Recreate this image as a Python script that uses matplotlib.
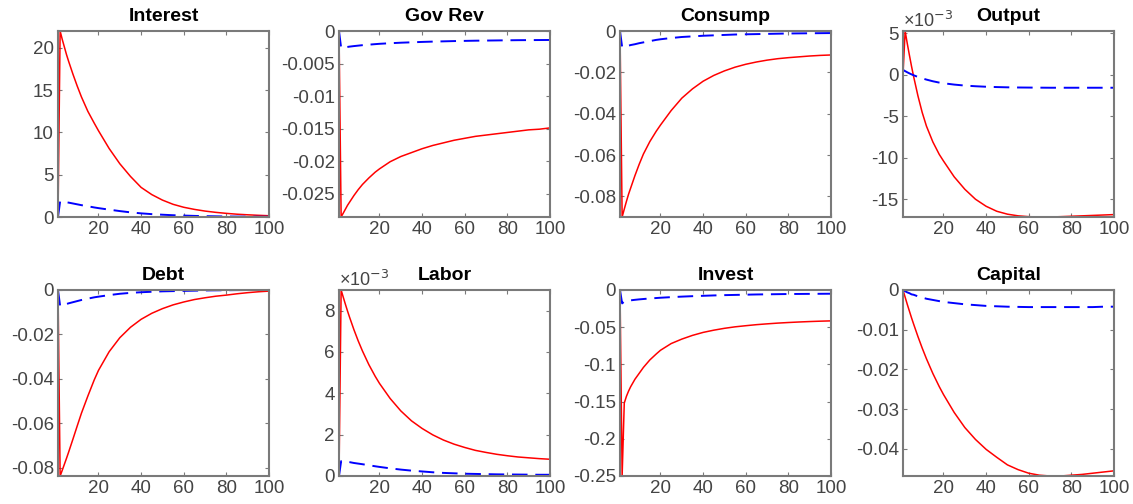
import matplotlib
matplotlib.use("Agg")
import matplotlib.pyplot as plt
from matplotlib.ticker import FixedLocator, FuncFormatter

plt.rcParams['font.family'] = ['Liberation Sans', 'DejaVu Sans']
plt.rcParams['axes.unicode_minus'] = False

# horizon points
periods = [1, 2, 3, 4, 5, 6, 8, 10, 12, 15, 18, 20, 25, 30, 35, 40,
           45, 50, 55, 60, 65, 70, 75, 80, 85, 90, 95, 100]

titles = ["Interest", "Gov Rev", "Consump", "Output",
          "Debt", "Labor", "Invest", "Capital"]

# red (solid) responses
interest_red = [0, 22, 21.0, 20.1, 19.2, 18.4, 16.9, 15.5, 14.2, 12.5, 11.1, 10.2, 8.1, 6.3,
                4.8, 3.5, 2.65, 2.0, 1.5, 1.15, 0.9, 0.7, 0.55, 0.43, 0.33, 0.26, 0.2, 0.15]
govrev_red = [0, -0.0286, -0.0280, -0.0274, -0.0268, -0.0263, -0.0253, -0.0244, -0.0236,
              -0.0226, -0.0217, -0.0212, -0.0201, -0.0193, -0.0187, -0.0181, -0.0176,
              -0.0172, -0.0168, -0.0165, -0.0162, -0.0160, -0.0158, -0.0156, -0.0154,
              -0.0152, -0.0151, -0.0149]
consump_red = [0, -0.090, -0.0862, -0.0825, -0.079, -0.0760, -0.0700, -0.0645, -0.0595,
               -0.0535, -0.0485, -0.0455, -0.0385, -0.0325, -0.0280, -0.0243, -0.0215,
               -0.0193, -0.0175, -0.0161, -0.0150, -0.0141, -0.0134, -0.0129, -0.0125,
               -0.0121, -0.0118, -0.0116]
output_red = [0, 0.00525, 0.00375, 0.00235, 0.0010, -0.00025, -0.00255, -0.00455, -0.0062,
              -0.0081, -0.0096, -0.0104, -0.0123, -0.0138, -0.0150, -0.01585, -0.01645,
              -0.0168, -0.0170, -0.0171, -0.01714, -0.01714, -0.0171, -0.01705, -0.0170,
              -0.01695, -0.0169, -0.01685]
debt_red = [0, -0.0838, -0.0812, -0.0785, -0.0758, -0.0730, -0.0672, -0.0613, -0.0555,
            -0.0478, -0.0405, -0.0362, -0.0278, -0.0215, -0.0168, -0.0132, -0.0105,
            -0.0084, -0.0067, -0.0054, -0.0043, -0.0035, -0.0028, -0.0023, -0.0017,
            -0.0012, -0.0008, -0.0005]
labor_red = [0, 0.0090, 0.00865, 0.00831, 0.00798, 0.00767, 0.00708, 0.00654, 0.00605,
             0.00539, 0.00482, 0.00448, 0.00375, 0.00315, 0.00267, 0.0023, 0.00199,
             0.00174, 0.00154, 0.00138, 0.00124, 0.00114, 0.00105, 0.00098, 0.00092,
             0.00088, 0.00084, 0.00081]
invest_red = [0, -0.25, -0.152, -0.143, -0.136, -0.130, -0.120, -0.112, -0.104, -0.094,
              -0.086, -0.081, -0.072, -0.066, -0.061, -0.057, -0.054, -0.0515, -0.0495,
              -0.048, -0.0466, -0.0455, -0.0445, -0.0437, -0.043, -0.0424, -0.0419,
              -0.0415]
capital_red = [0, -0.0018, -0.0036, -0.0053, -0.0070, -0.0086, -0.0117, -0.0146, -0.0173,
               -0.0210, -0.0243, -0.0263, -0.0308, -0.0346, -0.0376, -0.0401, -0.0421,
               -0.0440, -0.0452, -0.0461, -0.0466, -0.0468, -0.0468, -0.0466, -0.0464,
               -0.0461, -0.0458, -0.0455]

# blue (dashed) responses
interest_blue = [0, 1.85, 1.82, 1.78, 1.74, 1.7, 1.6, 1.5, 1.4, 1.27, 1.13, 1.05, 0.87, 0.7,
                 0.55, 0.43, 0.34, 0.27, 0.21, 0.17, 0.13, 0.1, 0.08, 0.06, 0.05, 0.04,
                 0.03, 0.03]
govrev_blue = [0, -0.0026, -0.00255, -0.0025, -0.00245, -0.0024, -0.00232, -0.00225,
               -0.00218, -0.0021, -0.00202, -0.00197, -0.00188, -0.0018, -0.00174,
               -0.00168, -0.00163, -0.00159, -0.00155, -0.00152, -0.00149, -0.00147,
               -0.00145, -0.00143, -0.00141, -0.0014, -0.00139, -0.00138]
consump_blue = [0, -0.0078, -0.0076, -0.0073, -0.0071, -0.0068, -0.0064, -0.0059, -0.0055,
                -0.0049, -0.0043, -0.0040, -0.0034, -0.0029, -0.0026, -0.0023, -0.0021,
                -0.0019, -0.0017, -0.0016, -0.0015, -0.0014, -0.0013, -0.0012, -0.00115,
                -0.0011, -0.00105, -0.001]
output_blue = [0.00057, 0.00042, 0.00028, 0.00015, 0.00003, -0.00008, -0.00028, -0.00045,
               -0.0006, -0.0008, -0.00096, -0.00104, -0.0012, -0.00132, -0.0014, -0.00146,
               -0.0015, -0.00153, -0.00155, -0.00156, -0.00157, -0.00158, -0.00158,
               -0.00158, -0.00158, -0.00158, -0.00158, -0.00158]
debt_blue = [0, -0.0072, -0.0069, -0.0066, -0.0063, -0.0060, -0.0055, -0.0050, -0.0045,
             -0.0039, -0.0033, -0.0030, -0.0023, -0.0017, -0.0013, -0.0010, -0.0008,
             -0.0006, -0.0005, -0.0004, -0.0003, -0.0002, -0.00015, -0.0001, -0.00005,
             0, 0, 0]
labor_blue = [0, 0.00072, 0.00071, 0.0007, 0.00068, 0.00067, 0.00063, 0.0006, 0.00057,
              0.00052, 0.00047, 0.00044, 0.00037, 0.00031, 0.00026, 0.00022, 0.00018,
              0.00015, 0.00013, 0.00011, 0.0001, 0.00009, 0.00008, 0.000075, 0.00007,
              0.000065, 0.00006, 0.00006]
invest_blue = [0, -0.018, -0.0155, -0.0148, -0.0143, -0.0139, -0.0132, -0.0126, -0.0121,
               -0.0114, -0.0108, -0.0104, -0.0096, -0.0089, -0.0083, -0.0078, -0.0073,
               -0.0069, -0.0066, -0.0063, -0.0060, -0.0058, -0.0056, -0.0054, -0.0053,
               -0.0052, -0.0051, -0.005]
capital_blue = [0, -0.0003, -0.0006, -0.0008, -0.0011, -0.0012, -0.0016, -0.0019, -0.0022,
                -0.0025, -0.0028, -0.0030, -0.0033, -0.0036, -0.0038, -0.0040, -0.0041,
                -0.0042, -0.00425, -0.0043, -0.0043, -0.0043, -0.0043, -0.0043, -0.0043,
                -0.0043, -0.0042, -0.0042]

red_series = [interest_red, govrev_red, consump_red, output_red,
              debt_red, labor_red, invest_red, capital_red]
blue_series = [interest_blue, govrev_blue, consump_blue, output_blue,
               debt_blue, labor_blue, invest_blue, capital_blue]

y_ticks = [
    [0, 5, 10, 15, 20],
    [-0.025, -0.02, -0.015, -0.01, -0.005, 0],
    [-0.08, -0.06, -0.04, -0.02, 0],
    [-0.015, -0.01, -0.005, 0, 0.005],
    [-0.08, -0.06, -0.04, -0.02, 0],
    [0, 0.002, 0.004, 0.006, 0.008],
    [-0.25, -0.2, -0.15, -0.1, -0.05, 0],
    [-0.04, -0.03, -0.02, -0.01, 0],
]
x_ticks = [20, 40, 60, 80, 100]
scaled = {3, 5}  # panels shown in units of 1e-3

W, H = 1133, 504
fig = plt.figure(figsize=(W / 100, H / 100), dpi=100)

lefts = [58, 339, 620, 903]
tops = [31, 290]
ax_w, ax_h = 211, 186

axis_gray = '#7a7a7a'
label_gray = '#444444'

for i in range(8):
    row, col = divmod(i, 4)
    ax = fig.add_axes([lefts[col] / W, 1 - (tops[row] + ax_h) / H, ax_w / W, ax_h / H])

    ax.plot(periods, red_series[i], color='r', lw=1.1)
    ax.plot(periods, blue_series[i], color='b', lw=1.4, dashes=(8, 4))

    # tight limits, like MATLAB's axis tight
    lo = min(min(red_series[i]), min(blue_series[i]))
    hi = max(max(red_series[i]), max(blue_series[i]))
    ax.set_xlim(1, 100)
    ax.set_ylim(lo, hi)

    ax.xaxis.set_major_locator(FixedLocator(x_ticks))
    ax.yaxis.set_major_locator(FixedLocator(y_ticks[i]))
    if i in scaled:
        ax.yaxis.set_major_formatter(FuncFormatter(lambda v, p: '%g' % round(v * 1e3, 6)))
        ax.text(0.0, 1.0, '×10$^{-3}$', transform=ax.transAxes, ha='left', va='bottom',
                fontsize=13, color=label_gray)
    else:
        ax.yaxis.set_major_formatter(FuncFormatter(lambda v, p: '%g' % round(v, 6)))

    ax.tick_params(direction='in', top=True, right=True, length=3, width=0.8,
                   color=axis_gray, labelcolor=label_gray, labelsize=13.5, pad=3)
    for sp in ax.spines.values():
        sp.set_color(axis_gray)
        sp.set_linewidth(1.5)

    ax.set_title(titles[i], fontsize=14, fontweight='bold', pad=7)

fig.savefig('out.png', dpi=100)
